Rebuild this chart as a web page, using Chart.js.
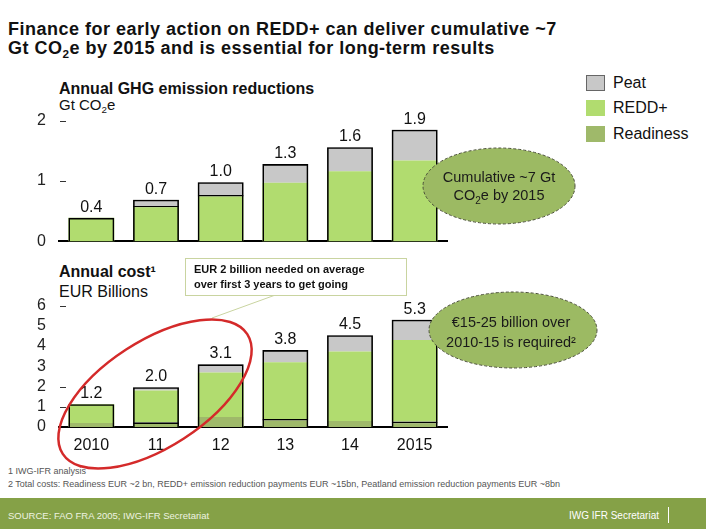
<!DOCTYPE html>
<html>
<head>
<meta charset="utf-8">
<script src="https://cdn.jsdelivr.net/npm/chart.js@4.4.1/dist/chart.umd.min.js"></script>
<style>
    body { margin: 0; background: #fff; font-family: "Liberation Sans", Arial, sans-serif; color: #111; }
    #page { position: relative; width: 706px; height: 529px; overflow: hidden; background: #fff; }
    .t { position: absolute; white-space: nowrap; line-height: 1; }
    .sub { font-size: 0.65em; position: relative; top: 0.3em; }
    canvas { position: absolute; left: 0; }
    #ghgChart { top: 98px; }
    #costChart { top: 283px; }
    .swatch { position: absolute; left: 586px; width: 19px; height: 16px; }
    #overlay { position: absolute; left: 0; top: 0; pointer-events: none; }
    #footer { position: absolute; left: 0; top: 498px; width: 706px; height: 31px; background: #85a147; }
</style>
</head>
<body>
<div id="page">
    <div class="t" style="left:8px;top:20px;font-size:18px;font-weight:bold;letter-spacing:0.5px;">Finance for early action on REDD+ can deliver cumulative ~7</div>
    <div class="t" style="left:8px;top:39px;font-size:18px;font-weight:bold;letter-spacing:0.5px;">Gt CO<span class="sub">2</span>e by 2015 and is essential for long-term results</div>

    <div class="t" style="left:59px;top:81px;font-size:16px;font-weight:bold;">Annual GHG emission reductions</div>
    <div class="t" style="left:59px;top:97px;font-size:15px;">Gt CO<span class="sub">2</span>e</div>

    <div class="t" style="left:59px;top:264px;font-size:16px;font-weight:bold;">Annual cost¹</div>
    <div class="t" style="left:59px;top:284px;font-size:16px;">EUR Billions</div>

    <div class="swatch" style="top:75px;background:#c8c8c8;border:1px solid #666;box-sizing:border-box;"></div>
    <div class="swatch" style="top:100px;background:#b1dc6f;"></div>
    <div class="swatch" style="top:126px;background:#9fb96a;"></div>
    <div class="t" style="left:613px;top:75px;font-size:16px;">Peat</div>
    <div class="t" style="left:613px;top:100px;font-size:16px;">REDD+</div>
    <div class="t" style="left:613px;top:126px;font-size:16px;">Readiness</div>

    <canvas id="ghgChart" width="460" height="166"></canvas>
    <canvas id="costChart" width="460" height="177"></canvas>

    <div class="t" style="left:8px;top:467px;font-size:9px;color:#555;">1 IWG-IFR analysis</div>
    <div class="t" style="left:8px;top:480px;font-size:9px;color:#555;">2 Total costs: Readiness EUR ~2 bn, REDD+ emission reduction payments EUR ~15bn, Peatland emission reduction payments EUR ~8bn</div>

    <div id="footer"></div>
    <div class="t" style="left:8px;top:511px;font-size:9.5px;color:#eef3e0;">SOURCE: FAO FRA 2005; IWG-IFR Secretariat</div>
    <div class="t" style="left:569px;top:511px;font-size:10px;color:#fff;">IWG IFR Secretariat</div>
    <div style="position:absolute;left:668px;top:507px;width:1px;height:16px;background:#fff;"></div>

    <svg id="overlay" width="706" height="529" font-family="Liberation Sans, Arial, sans-serif">
        <ellipse cx="499" cy="186" rx="76" ry="38" fill="#9cba63" stroke="#4b4f3a" stroke-width="1" stroke-dasharray="3,2"/>
        <text x="499" y="182" font-size="14.5" text-anchor="middle" fill="#1a1a1a">Cumulative ~7 Gt</text>
        <text x="499" y="200" font-size="14.5" text-anchor="middle" fill="#1a1a1a">CO<tspan font-size="10" dy="4">2</tspan><tspan dy="-4">e by 2015</tspan></text>

        <ellipse cx="513" cy="330" rx="84" ry="38" fill="#9cba63" stroke="#4b4f3a" stroke-width="1" stroke-dasharray="3,2"/>
        <text x="511" y="327" font-size="14.5" text-anchor="middle" fill="#1a1a1a">€15-25 billion over</text>
        <text x="511" y="347" font-size="14.5" text-anchor="middle" fill="#1a1a1a">2010-15 is required²</text>

        <rect x="185.5" y="258.5" width="221" height="37" fill="#fff" stroke="#c9d4a0" stroke-width="1"/>
        <line x1="274" y1="295.5" x2="212" y2="318" stroke="#c9d4a0" stroke-width="1"/>
        <text x="194" y="273" font-size="11" font-weight="bold" fill="#111">EUR 2 billion needed on average</text>
        <text x="194" y="288" font-size="11" font-weight="bold" fill="#111">over first 3 years to get going</text>

        <ellipse cx="155" cy="394" rx="110" ry="53" transform="rotate(-33 155 394)" fill="none" stroke="#d42a2a" stroke-width="2.5"/>
    </svg>
</div>

<script>
// categories
const years = ['2010', '11', '12', '13', '14', '2015'];

// Annual GHG emission reductions, Gt CO2e
const ghgRedd = [0.39, 0.59, 0.77, 0.97, 1.16, 1.34];
const ghgPeat = [0, 0.10, 0.21, 0.31, 0.40, 0.51];
const ghgTotalLabels = ['0.4', '0.7', '1.0', '1.3', '1.6', '1.9'];
const ghgTicks = [0, 1, 2];

// Annual cost, EUR billions
const costReadiness = [0.2, 0.23, 0.5, 0.4, 0.3, 0.27];
const costRedd = [0.93, 1.57, 2.19, 2.8, 3.43, 4.03];
const costPeat = [0, 0.17, 0.41, 0.6, 0.81, 1.0];
const costTotalLabels = ['1.2', '2.0', '3.1', '3.8', '4.5', '5.3'];
const costTicks = [0, 1, 2, 3, 4, 5, 6];

const PEAT = '#c8c8c8';
const REDD = '#b1dc6f';
const READY = '#9fb96a';
const FONT = '"Liberation Sans", Arial, sans-serif';
const BAR_PCT = 0.71;

// totals above bars + the little dashes beside some y ticks
const barLabels = {
    id: 'barLabels',
    afterDatasetsDraw(chart, args, opts) {
        const ctx = chart.ctx;
        const meta = chart.getDatasetMeta(chart.data.datasets.length - 1);
        ctx.save();
        ctx.font = '16px ' + FONT;
        ctx.fillStyle = '#111';
        ctx.textAlign = 'center';
        meta.data.forEach((bar, i) => {
            ctx.fillText(opts.labels[i], bar.x, bar.y - 6);
        });
        const y = chart.scales.y;
        ctx.strokeStyle = '#333';
        ctx.lineWidth = 1;
        opts.dashes.forEach(v => {
            const py = Math.round(y.getPixelForValue(v)) + 0.5;
            ctx.beginPath();
            ctx.moveTo(chart.chartArea.left + 1, py);
            ctx.lineTo(chart.chartArea.left + 7, py);
            ctx.stroke();
        });
        ctx.restore();
    }
};

function sumOf(...series) {
    return series[0].map((_, i) => series.reduce((s, arr) => s + arr[i], 0));
}

function outline(totals) {
    return {
        label: 'outline',
        data: totals,
        stack: 'outline',
        grouped: false,
        order: -1,
        backgroundColor: 'rgba(0,0,0,0)',
        borderColor: '#000',
        borderWidth: { top: 1.6, left: 1.6, right: 1.6, bottom: 0 },
        borderSkipped: false,
        barPercentage: BAR_PCT
    };
}

// note: y tick padding also pads the chart area top/bottom, canvases are placed for that
function baseOptions(tickValues, pad, xHeight, showX, labelOpts) {
    return {
        responsive: false,
        animation: false,
        devicePixelRatio: 1,
        layout: { padding: pad },
        datasets: { bar: { categoryPercentage: 1, barPercentage: BAR_PCT } },
        plugins: {
            legend: { display: false },
            tooltip: { enabled: false },
            barLabels: labelOpts
        },
        scales: {
            x: {
                stacked: true,
                grid: { display: false, drawTicks: false },
                border: { display: true, color: '#000', width: 2 },
                ticks: { display: showX, padding: 9, color: '#111', font: { family: FONT, size: 16 } },
                afterFit(scale) { scale.height = xHeight; }
            },
            y: {
                stacked: true,
                min: tickValues[0],
                max: tickValues[tickValues.length - 1],
                grid: { display: false, drawTicks: false },
                border: { display: false },
                ticks: { padding: 13, autoSkip: false, color: '#222', font: { family: FONT, size: 16 } },
                afterBuildTicks(axis) { axis.ticks = tickValues.map(v => ({ value: v })); },
                afterFit(scale) { scale.width = 59; }
            }
        }
    };
}

new Chart(document.getElementById('ghgChart'), {
    type: 'bar',
    data: {
        labels: years,
        datasets: [
            {
                label: 'REDD+', data: ghgRedd, backgroundColor: REDD, borderColor: '#000',
                borderWidth: [0, { top: 1.6 }, { top: 1.6 }, 0, 0, 0]
            },
            { label: 'Peat', data: ghgPeat, backgroundColor: PEAT, borderWidth: 0 },
            outline(sumOf(ghgRedd, ghgPeat))
        ]
    },
    options: baseOptions(ghgTicks, { top: 0, bottom: 0, right: 13 }, 0, false,
        { labels: ghgTotalLabels, dashes: [1, 2] }),
    plugins: [barLabels]
});

new Chart(document.getElementById('costChart'), {
    type: 'bar',
    data: {
        labels: years,
        datasets: [
            {
                label: 'Readiness', data: costReadiness, backgroundColor: READY, borderColor: '#000',
                borderWidth: [0, { top: 1.6 }, 0, { top: 1.6 }, 0, { top: 1.6 }]
            },
            { label: 'REDD+', data: costRedd, backgroundColor: REDD, borderWidth: 0 },
            { label: 'Peat', data: costPeat, backgroundColor: PEAT, borderWidth: 0 },
            outline(sumOf(costReadiness, costRedd, costPeat))
        ]
    },
    options: baseOptions(costTicks, { top: 0, bottom: 0, right: 13 }, 33, true,
        { labels: costTotalLabels, dashes: [1, 2, 6] }),
    plugins: [barLabels]
});
</script>
</body>
</html>
